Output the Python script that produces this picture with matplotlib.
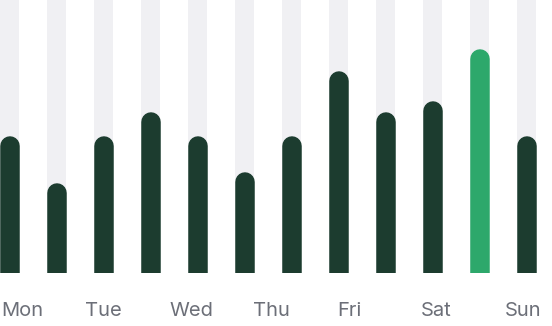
import numpy as np
import matplotlib
matplotlib.use("Agg")
import matplotlib.pyplot as plt

# daily values, two slots per day, 0-100 scale
slots = np.arange(12)
values = [50, 33, 50, 59, 50, 37, 50, 74, 59, 63, 82, 50]
highlight = 10
day_labels = ["Mon", "Tue", "Wed", "Thu", "Fri", "Sat", "Sun"]

W, H = 552, 326
dpi = 100
fig = plt.figure(figsize=(W / dpi, H / dpi), dpi=dpi)

# axes placed in pixels: slot pitch 47px, first bar centre at x=9.6, baseline at y=273
pitch = 47.0
x0 = 9.6
ax_h = 273.0
ax = fig.add_axes([0, (H - ax_h) / H, 1, ax_h / H])
ax.set_xlim(-x0 / pitch, (W - x0) / pitch)
ax.set_ylim(0, 100)
ax.axis("off")

bar_w = 19.5 / pitch
ax.bar(slots, 100, width=bar_w, color="#f0f0f3", zorder=1)

# rounded-top bars: thick lines with round caps, bottom cap clipped by ylim
lw_pt = 19.5 * 72 / dpi
r = 9.75 / ax_h * 100
colors = ["#2da86b" if i == highlight else "#1c3c2f" for i in slots]
ax.vlines(slots, -r, np.array(values) - r, colors=colors, linewidth=lw_pt,
          capstyle="round", zorder=2)

# day labels, left aligned every 84px
for i, lab in enumerate(day_labels):
    fig.text((1.0 + 84 * i) / W, 1 - 311 / H, lab, ha="left", va="center",
             fontsize=14.5, color="#6c6f78", family="Inter")

fig.savefig("out.png", dpi=dpi)
